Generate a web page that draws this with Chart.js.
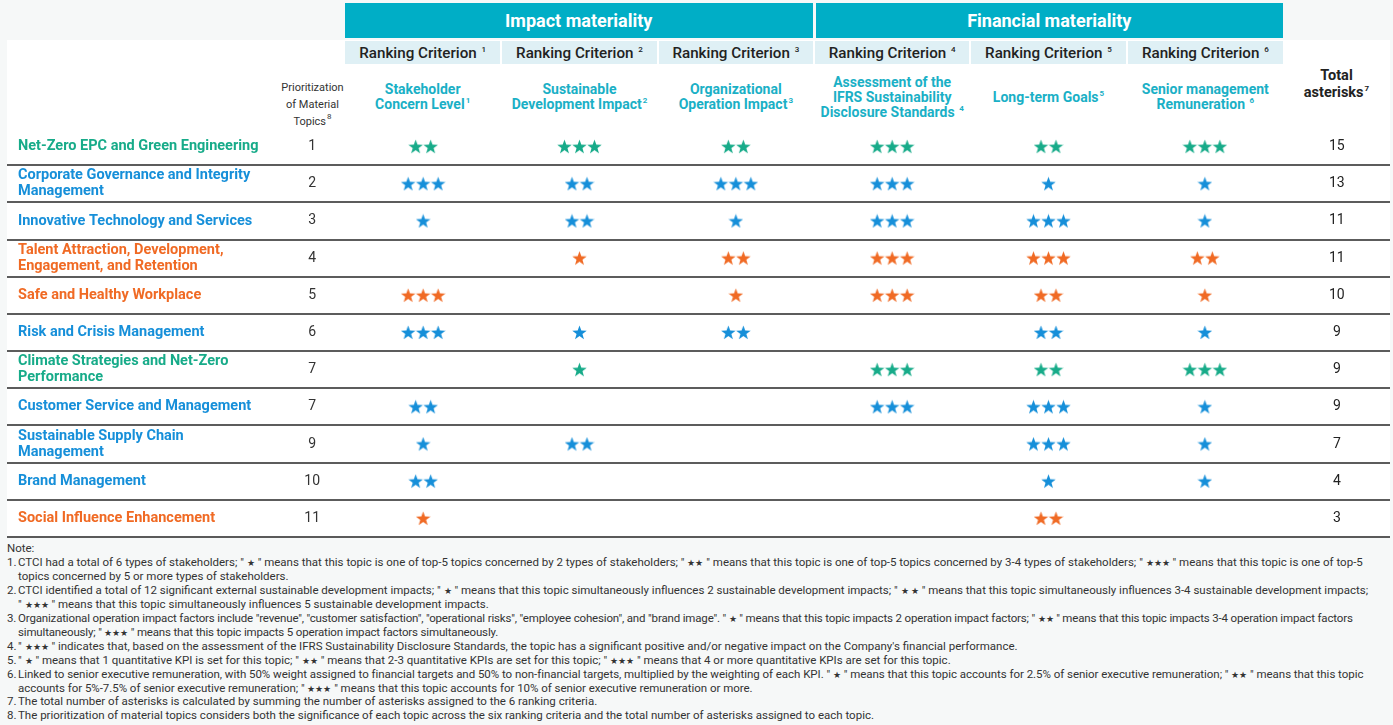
<!DOCTYPE html>
<html>
<head>
<meta charset="utf-8">
<script src="https://cdn.jsdelivr.net/npm/chart.js@4.4.1/dist/chart.umd.min.js"></script>
<style>
  body { margin: 0; width: 1393px; height: 725px; background: #f6f8f8; font-family: Roboto, sans-serif; position: relative; overflow: hidden; }
  .abs { position: absolute; }
  .panel { left: 7px; top: 40px; width: 1383px; height: 496px; background: #fff; }
  .band { top: 3px; height: 35px; background: #00aec6; color: #fff; font-weight: bold; font-size: 18px; display: flex; align-items: center; justify-content: center; }
  .crit { top: 41px; height: 23px; background: #dff0f5; color: #222; font-weight: 500; font-size: 15.2px; display: flex; align-items: center; justify-content: center; }
  .ctitle { top: 70px; height: 54px; display: flex; align-items: center; justify-content: center; text-align: center; color: #1ab0c6; font-weight: bold; font-size: 14px; line-height: 15px; }
  sup { font-size: 8px; line-height: 0; vertical-align: 6px; margin-left: 1px; }
  .prio { left: 280px; width: 65px; top: 79px; text-align: center; font-size: 11px; line-height: 17px; color: #333; }
  .total { left: 1283px; width: 107px; top: 67px; text-align: center; font-size: 14.5px; line-height: 17px; font-weight: bold; color: #222; }
  #chartBox { left: 0; top: 128px; width: 1393px; height: 411px; }
  .notes { left: 7px; top: 542px; font-size: 11.5px; line-height: 13.95px; color: #333; white-space: nowrap; }
  .notes .in { padding-left: 11px; }
  .notes .n { display: inline-block; width: 11px; margin-left: -11px; }
  .s { font-size: 9px; line-height: 0; }
</style>
</head>
<body>
<div class="abs panel"></div>
<div id="head"></div>
<div class="abs prio">Prioritization<br>of Material<br>Topics<sup>8</sup></div>
<div class="abs total">Total<br>asterisks<sup>7</sup></div>
<div class="abs" id="chartBox"><canvas id="myChart" width="1393" height="411"></canvas></div>
<div class="abs notes">
  <div>Note:</div>
  <div class="in"><span class="n">1.</span>CTCI had a total of 6 types of stakeholders; " <span class="s">★</span> " means that this topic is one of top-5 topics concerned by 2 types of stakeholders; " <span class="s">★★</span> " means that this topic is one of top-5 topics concerned by 3-4 types of stakeholders; " <span class="s">★★★</span> " means that this topic is one of top-5<br>topics concerned by 5 or more types of stakeholders.</div>
  <div class="in"><span class="n">2.</span>CTCI identified a total of 12 significant external sustainable development impacts; " <span class="s">★</span> " means that this topic simultaneously influences 2 sustainable development impacts; " <span class="s">★ ★</span> " means that this topic simultaneously influences 3-4 sustainable development impacts;<br>" <span class="s">★★★</span> " means that this topic simultaneously influences 5 sustainable development impacts.</div>
  <div class="in" style="letter-spacing:-0.16px"><span class="n">3.</span>Organizational operation impact factors include "revenue", "customer satisfaction", "operational risks", "employee cohesion", and "brand image". " <span class="s">★</span> " means that this topic impacts 2 operation impact factors; " <span class="s">★★</span> " means that this topic impacts 3-4 operation impact factors<br>simultaneously; " <span class="s">★★★</span> " means that this topic impacts 5 operation impact factors simultaneously.</div>
  <div class="in"><span class="n">4.</span>" <span class="s">★★★</span> " indicates that, based on the assessment of the IFRS Sustainability Disclosure Standards, the topic has a significant positive and/or negative impact on the Company's financial performance.</div>
  <div class="in"><span class="n">5.</span>" <span class="s">★</span> " means that 1 quantitative KPI is set for this topic; " <span class="s">★★</span> " means that 2-3 quantitative KPIs are set for this topic; " <span class="s">★★★</span> " means that 4 or more quantitative KPIs are set for this topic.</div>
  <div class="in" style="letter-spacing:-0.04px"><span class="n">6.</span>Linked to senior executive remuneration, with 50% weight assigned to financial targets and 50% to non-financial targets, multiplied by the weighting of each KPI. " <span class="s">★</span> " means that this topic accounts for 2.5% of senior executive remuneration; " <span class="s">★★</span> " means that this topic<br>accounts for 5%-7.5% of senior executive remuneration; " <span class="s">★★★</span> " means that this topic accounts for 10% of senior executive remuneration or more.</div>
  <div class="in"><span class="n">7.</span>The total number of asterisks is calculated by summing the number of asterisks assigned to the 6 ranking criteria.</div>
  <div class="in"><span class="n">8.</span>The prioritization of material topics considers both the significance of each topic across the six ranking criteria and the total number of asterisks assigned to each topic.</div>
</div>
<script>
// topics (rows), with line breaks as in the report
const topics = [
  ['Net-Zero EPC and Green Engineering'],
  ['Corporate Governance and Integrity', 'Management'],
  ['Innovative Technology and Services'],
  ['Talent Attraction, Development,', 'Engagement, and Retention'],
  ['Safe and Healthy Workplace'],
  ['Risk and Crisis Management'],
  ['Climate Strategies and Net-Zero', 'Performance'],
  ['Customer Service and Management'],
  ['Sustainable Supply Chain', 'Management'],
  ['Brand Management'],
  ['Social Influence Enhancement']
]
const topicGroup = ['env', 'gov', 'gov', 'soc', 'soc', 'gov', 'env', 'gov', 'gov', 'gov', 'soc']
const priority = [1, 2, 3, 4, 5, 6, 7, 7, 9, 10, 11]
const totals = [15, 13, 11, 11, 10, 9, 9, 9, 7, 4, 3]

// stars per criterion, one value per topic
const stakeholder = [2, 3, 1, 0, 3, 3, 0, 2, 1, 2, 1]
const sustainable = [3, 2, 2, 1, 0, 1, 1, 0, 2, 0, 0]
const organizational = [2, 3, 1, 2, 1, 2, 0, 0, 0, 0, 0]
const ifrs = [3, 3, 3, 3, 3, 0, 3, 3, 0, 0, 0]
const longTerm = [2, 1, 3, 3, 2, 2, 2, 3, 3, 1, 2]
const remuneration = [3, 1, 1, 2, 1, 1, 3, 1, 1, 1, 0]

// column headers
const groups = ['Impact materiality', 'Financial materiality']
const criteria = [
  'Stakeholder<br>Concern Level<sup>1</sup>',
  'Sustainable<br>Development Impact<sup>2</sup>',
  'Organizational<br>Operation Impact<sup>3</sup>',
  'Assessment of the<br>IFRS Sustainability<br>Disclosure Standards <sup>4</sup>',
  'Long-term Goals<sup>5</sup>',
  'Senior management<br>Remuneration <sup>6</sup>'
]
const starCols = [stakeholder, sustainable, organizational, ifrs, longTerm, remuneration]

const groupColor = { env: '#17ab89', gov: '#168fd9', soc: '#f06a24' }

// filled five point stars, n in a row
const makeStars = (n, color) => {
  const c = document.createElement('canvas')
  c.width = n * 15
  c.height = 15
  const g = c.getContext('2d')
  g.fillStyle = color
  for (let k = 0; k < n; k++) {
    const cx = 7.5 + k * 15, cy = 8
    g.beginPath()
    for (let p = 0; p < 10; p++) {
      const r = p % 2 ? 3.1 : 7.6
      const a = -Math.PI / 2 + p * Math.PI / 5
      g.lineTo(cx + r * Math.cos(a), cy + r * Math.sin(a))
    }
    g.closePath()
    g.fill()
  }
  return c
}
const starImg = {}
Object.keys(groupColor).forEach(k => {
  starImg[k] = [null, 1, 2, 3].map(n => n && makeStars(n, groupColor[k]))
})

const datasets = starCols.map((col, ci) => ({
  data: col.map((n, i) => ({ x: ci, y: i, n: n, g: topicGroup[i] })).filter(d => d.n > 0),
  pointStyle: ctx => ctx.raw ? starImg[ctx.raw.g][ctx.raw.n] : false
}))

// dark line under every row
const rowLines = {
  id: 'rowLines',
  beforeDatasetsDraw(chart) {
    const { ctx, scales: { y } } = chart
    ctx.save()
    ctx.strokeStyle = '#262626'
    ctx.lineWidth = 1.6
    topics.forEach((t, i) => {
      const py = Math.round(y.getPixelForValue(i + 0.5))
      ctx.beginPath()
      ctx.moveTo(7, py)
      ctx.lineTo(chart.width - 3, py)
      ctx.stroke()
    })
    ctx.restore()
  }
}

// fixed column widths, and no extra padding from the tick labels
const fixWidth = w => s => {
  s.width = w
  s.paddingTop = 0
  s.paddingBottom = 0
}

Chart.defaults.font.family = 'Roboto'

const ctx = document.getElementById('myChart').getContext('2d')
const chart = new Chart(ctx, {
  type: 'scatter',
  data: { datasets },
  options: {
    responsive: false,
    animation: false,
    events: [],
    layout: { padding: { left: 18, right: 3, top: 0, bottom: 2 }, autoPadding: false },
    plugins: { legend: { display: false }, tooltip: { enabled: false } },
    scales: {
      x: { type: 'linear', min: -0.5, max: 5.5, display: false },
      y: { type: 'linear', min: -0.5, max: 10.5, reverse: true, display: false },
      yTopic: {
        type: 'category', labels: topics, offset: true, position: 'left', weight: 2,
        grid: { display: false, drawTicks: false }, border: { display: false },
        ticks: {
          autoSkip: false, crossAlign: 'far', padding: 0,
          color: c => groupColor[topicGroup[c.index]],
          font: { size: 14.5, weight: 'bold', lineHeight: 1.1 }
        },
        afterFit: fixWidth(262)
      },
      yPrio: {
        type: 'category', labels: priority.map(String), offset: true, position: 'left', weight: 1,
        grid: { display: false, drawTicks: false }, border: { display: false },
        ticks: { autoSkip: false, crossAlign: 'center', padding: 25, color: '#333', font: { size: 14 } },
        afterFit: fixWidth(65)
      },
      yTotal: {
        type: 'category', labels: totals.map(String), offset: true, position: 'right',
        grid: { display: false, drawTicks: false }, border: { display: false },
        ticks: { autoSkip: false, crossAlign: 'center', padding: 46, color: '#222', font: { size: 14 } },
        afterFit: fixWidth(107)
      }
    }
  },
  plugins: [rowLines]
})

// header cells placed on the chart's own column positions
const x = chart.scales.x
const head = document.getElementById('head')
let html = ''
groups.forEach((name, gi) => {
  const l = x.getPixelForValue(gi * 3 - 0.5) + (gi ? 1.5 : 0)
  const r = x.getPixelForValue(gi * 3 + 2.5) - (gi ? 0 : 1.5)
  html += `<div class="abs band" style="left:${l}px;width:${r - l}px"><span>${name}</span></div>`
})
criteria.forEach((title, ci) => {
  const l = x.getPixelForValue(ci - 0.5) + (ci ? 1 : 0)
  const r = x.getPixelForValue(ci + 0.5) - (ci < 5 ? 1 : 0)
  html += `<div class="abs crit" style="left:${l}px;width:${r - l}px"><span>Ranking Criterion <sup>${ci + 1}</sup></span></div>`
  html += `<div class="abs ctitle" style="left:${l}px;width:${r - l}px"><div>${title}</div></div>`
})
head.innerHTML = html
</script>
</body>
</html>
